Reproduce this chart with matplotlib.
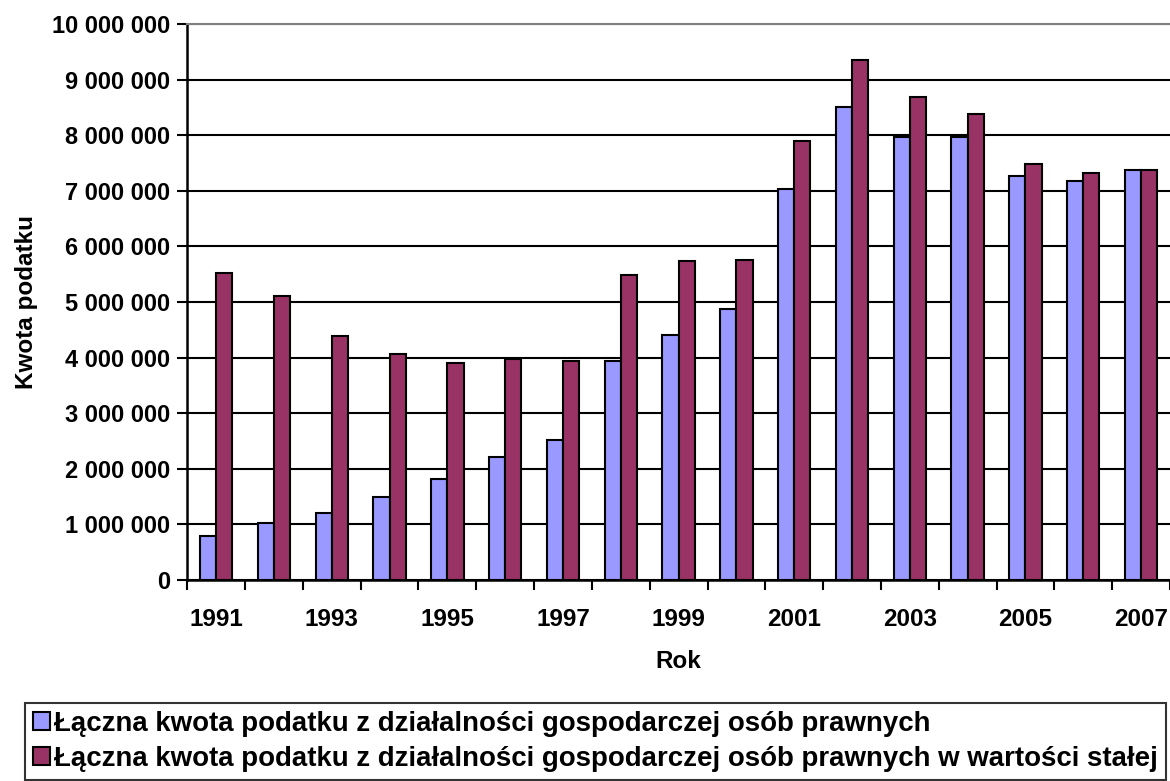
import numpy as np
import matplotlib
matplotlib.use("Agg")
import matplotlib.pyplot as plt
from matplotlib.ticker import FuncFormatter

plt.rcParams['font.family'] = ['Liberation Sans', 'DejaVu Sans']
plt.rcParams['font.weight'] = 'bold'

# Data
years = list(range(1991, 2008))
nominal = [790000, 1030000, 1205000, 1490000, 1810000, 2210000, 2510000, 3940000,
           4410000, 4870000, 7040000, 8500000, 7970000, 7960000, 7260000, 7170000, 7370000]
constant = [5530000, 5110000, 4390000, 4070000, 3900000, 3980000, 3930000, 5490000,
            5730000, 5750000, 7900000, 9360000, 8690000, 8380000, 7480000, 7320000, 7370000]
labels = ['Łączna kwota podatku z działalności gospodarczej osób prawnych',
          'Łączna kwota podatku z działalności gospodarczej osób prawnych w wartości stałej']

fig = plt.figure(figsize=(11.7, 7.81), dpi=100)
ax = fig.add_axes([0.160, 0.2574, 0.840, 0.7119])

x = np.arange(len(years))
w = 0.28
ax.bar(x - w / 2, nominal, w, color='#9999FF', edgecolor='black', linewidth=1.5, label=labels[0], zorder=3)
ax.bar(x + w / 2, constant, w, color='#993366', edgecolor='black', linewidth=1.5, label=labels[1], zorder=3)

ax.set_xlim(-0.5, len(years) - 0.5)
ax.set_ylim(0, 10000000)
ax.set_yticks(np.arange(0, 10000001, 1000000))
ax.yaxis.set_major_formatter(FuncFormatter(lambda v, p: f"{int(v):,}".replace(',', ' ')))
ax.grid(axis='y', color='black', linewidth=1.5, zorder=0)

ax.set_xticks(x[::2])
ax.set_xticklabels([str(y) for y in years[::2]])
ax.set_xticks(np.arange(-0.5, len(years)), minor=True)
ax.tick_params(axis='x', which='major', length=0, pad=20, labelsize=17.5)
ax.tick_params(axis='x', which='minor', length=7, width=1.5, direction='out')
ax.tick_params(axis='y', length=7, width=1.5, labelsize=17, pad=5)

for s in ['left', 'bottom']:
    ax.spines[s].set_linewidth(1.8)
ax.spines['top'].set_color('#808080')
ax.spines['top'].set_linewidth(1.5)
ax.spines['right'].set_visible(False)

ax.set_xlabel('Rok', fontsize=17.5, fontweight='bold', labelpad=14)
ax.set_ylabel('Kwota podatku', fontsize=17.5, fontweight='bold', labelpad=10)

leg = fig.legend(loc='upper left', bbox_to_anchor=(0.021, 0.1005), fontsize=19.9,
                 frameon=True, fancybox=False, edgecolor='black', borderaxespad=0,
                 handlelength=0.62, handleheight=0.62, handletextpad=0.15,
                 labelspacing=0.33, borderpad=0.3)
leg.get_frame().set_linewidth(1.5)

fig.savefig('out.png', dpi=100)
